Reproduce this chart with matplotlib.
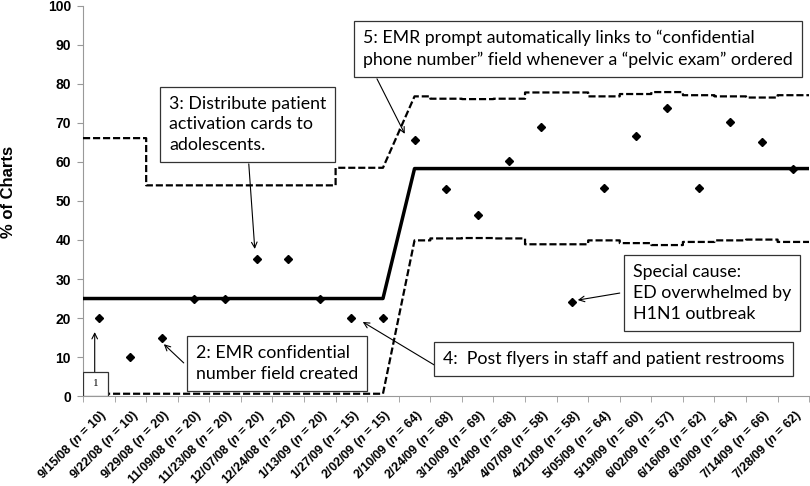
import numpy as np
import matplotlib
matplotlib.use("Agg")
import matplotlib.pyplot as plt
import matplotlib.transforms as mtransforms
from matplotlib.patches import Rectangle

plt.rcParams['font.family'] = ['Liberation Sans', 'DejaVu Sans']
plt.rcParams['mathtext.fontset'] = 'custom'
plt.rcParams['mathtext.it'] = 'Liberation Sans:bold:italic'
plt.rcParams['mathtext.rm'] = 'Liberation Sans:bold'

dates = ['9/15/08', '9/22/08', '9/29/08', '11/09/08', '11/23/08', '12/07/08',
         '12/24/08', '1/13/09', '1/27/09', '2/02/09', '2/10/09', '2/24/09',
         '3/10/09', '3/24/09', '4/07/09', '4/21/09', '5/05/09', '5/19/09',
         '6/02/09', '6/16/09', '6/30/09', '7/14/09', '7/28/09']
n_charts = [10, 10, 20, 20, 20, 20, 20, 20, 15, 15, 64, 68, 69, 68, 58, 58,
            64, 60, 57, 62, 64, 66, 62]
pct = [20, 10, 15, 25, 25, 35, 35, 25, 20, 20, 65.7, 53, 46.5, 60.3, 69, 24.2,
       53.2, 66.7, 73.7, 53.2, 70.3, 65.1, 58.1]

# phase 1 = first 10 points, phase 2 = rest
n_phase1 = 10
center = [25] * 10 + [58.3] * 13
ucl = [66.1, 66.1, 54, 54, 54, 54, 54, 54, 58.5, 58.5,
       76.8, 76.2, 76.1, 76.2, 77.8, 77.8, 76.8, 77.4, 77.9, 77.1, 76.8, 76.5, 77.1]
lcl = [0.6] * 10 + [39.9, 40.4, 40.5, 40.4, 38.9, 38.9, 39.9, 39.2, 38.7, 39.5,
                    39.9, 40.1, 39.5]


def step_path(vals):
    # flat across each category, sloped between the two phases
    xs, ys = [], []
    for i, v in enumerate(vals):
        left = i if i == n_phase1 else i - 0.5
        right = i if i == n_phase1 - 1 else i + 0.5
        xs += [left, right]
        ys += [v, v]
    return xs, ys


labels = [f'{d} ($n$ = {n})' for d, n in zip(dates, n_charts)]
x = np.arange(len(dates))

fig, ax = plt.subplots(figsize=(8.1, 4.86), dpi=100)
fig.subplots_adjust(left=0.1025, right=0.999, bottom=0.185, top=0.988)

dash = (0, (3.2, 1.3))
cx, cy = step_path(center)
ax.plot(cx, cy, color='black', lw=2.5, zorder=3)
ux, uy = step_path(ucl)
ax.plot(ux, uy, color='black', lw=1.6, linestyle=dash, zorder=3)
lx, ly = step_path(lcl)
ax.plot(lx, ly, color='black', lw=1.6, linestyle=dash, zorder=3)
ax.plot(x, pct, linestyle='none', marker='D', markersize=4, color='black', zorder=4)

ax.set_xlim(-0.5, len(dates) - 0.5)
ax.set_ylim(0, 100)
ax.set_yticks(range(0, 101, 10))
ax.set_xticks(x)
ax.set_xticks(np.arange(-0.5, len(dates), 1), minor=True)
ax.set_xticklabels(labels, rotation=45, ha='right', va='top',
                   rotation_mode='anchor', fontsize=9, fontweight='bold')
shift = mtransforms.ScaledTranslation(7 / 72, 1 / 72, fig.dpi_scale_trans)
for t in ax.get_xticklabels():
    t.set_transform(t.get_transform() + shift)
ax.tick_params(axis='x', which='major', length=0, pad=8)
ax.tick_params(axis='x', which='minor', length=4, color='#999999')
ax.tick_params(axis='y', length=4.3, pad=4.3, color='#999999', labelsize=10)
for t in ax.get_yticklabels():
    t.set_fontweight('bold')
ax.set_ylabel('% of Charts', fontsize=12, fontweight='bold')
ax.yaxis.set_label_coords(-0.092, 0.522)

for s in ['top', 'right']:
    ax.spines[s].set_visible(False)
for s in ['left', 'bottom']:
    ax.spines[s].set_color('#999999')

box_font = ['Lato', 'DejaVu Sans']
box = dict(boxstyle='square,pad=0.5', facecolor='white', edgecolor='#333333', lw=0.9)
arrow = dict(arrowstyle='->', color='black', lw=0.8, shrinkA=0, shrinkB=0)

notes = [
    ('3: Distribute patient\nactivation cards to\nadolescents.', 4.72, 69.6),
    ('5: EMR prompt automatically links to \u201cconfidential\nphone number\u201d field whenever a \u201cpelvic exam\u201d ordered', 15.17, 89.0),
    ('2: EMR confidential\nnumber field created', 5.64, 8.3),
    ('4:  Post flyers in staff and patient restrooms', 16.31, 9.5),
    ('Special cause:\nED overwhelmed by\nH1N1 outbreak', 19.43, 26.4),
]
for txt, tx, ty in notes:
    ax.text(tx, ty, txt, ha='center', va='center', multialignment='left',
            fontsize=12.8, linespacing=1.38, family=box_font, bbox=box, zorder=6)

ax.add_patch(Rectangle((-0.5, 0), 0.785, 6.15, facecolor='white',
                       edgecolor='#333333', lw=0.9, zorder=6))
ax.text(-0.11, 3.1, '1', ha='center', va='center', fontsize=8,
        family='Liberation Serif', zorder=7)

arrows = [
    ((4.75, 59.5), (4.94, 37.7)),
    ((8.81, 81.3), (9.69, 67.2)),
    ((2.69, 8.5), (2.06, 13.3)),
    ((-0.13, 6.2), (-0.13, 16.4)),
    ((10.64, 7.9), (8.36, 19.0)),
    ((16.5, 26.4), (15.17, 24.6)),
]
for start, end in arrows:
    ax.annotate('', xy=end, xytext=start, arrowprops=arrow, zorder=5)

plt.savefig('out.png', dpi=100)
